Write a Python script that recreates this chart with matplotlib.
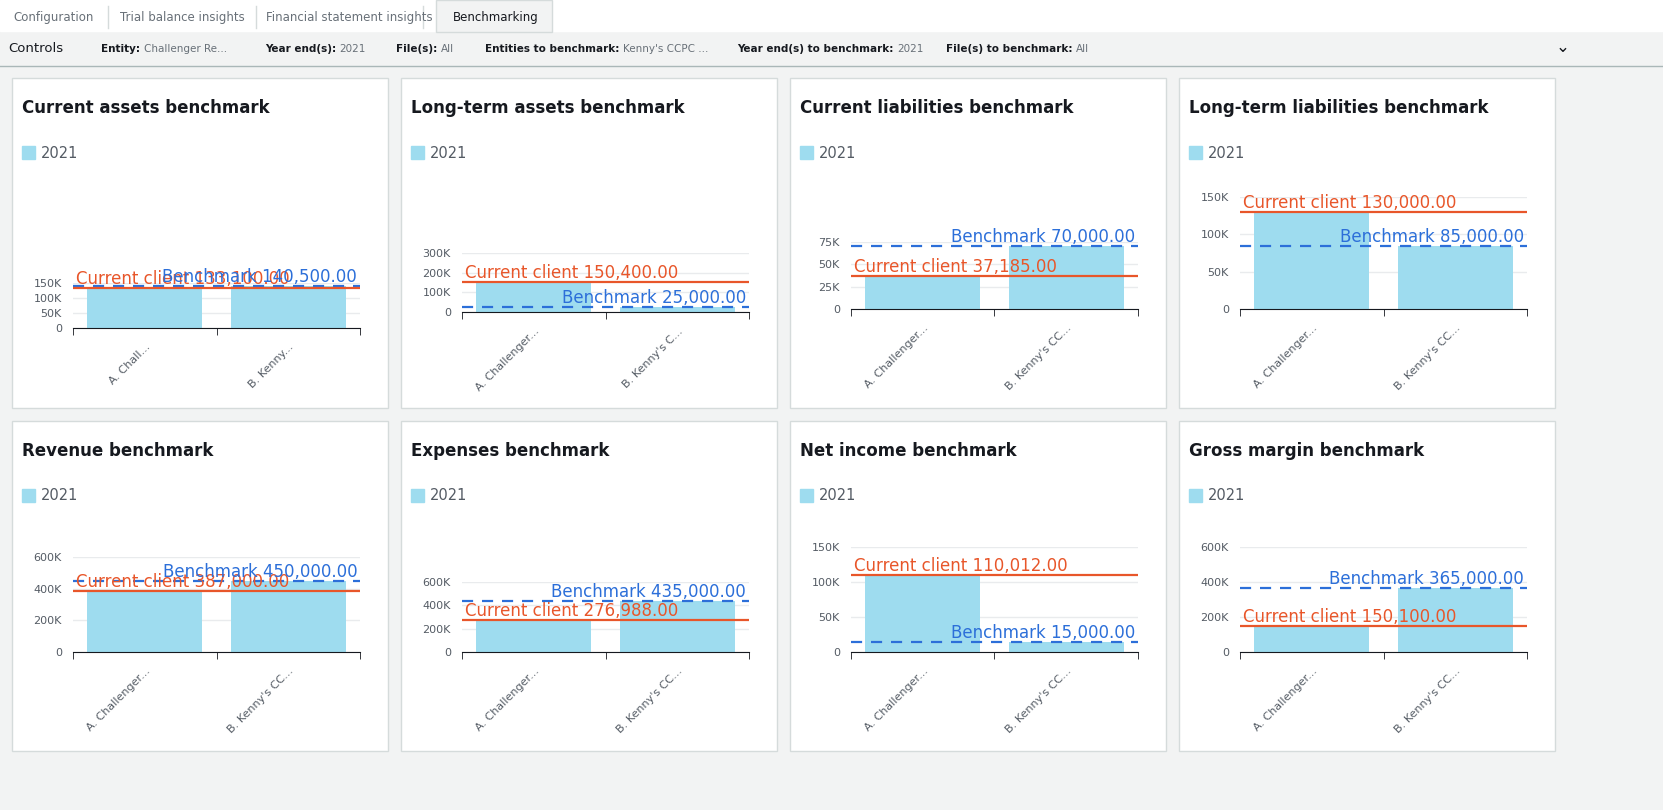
import matplotlib.pyplot as plt
from matplotlib.patches import Rectangle

W, H = 1663, 810
BAR = "#9edcef"
CLIENT = "#e8562a"
BENCH = "#2c6fd9"

# title, panel origin, y max, step, top tick px, bottom px, client, benchmark, labels
panels = [
    ("Current assets benchmark", (12, 78), 150000, 50000, 283, 328, 133100, 140500, ["A. Chall...", "B. Kenny..."]),
    ("Long-term assets benchmark", (401, 78), 300000, 100000, 253, 312, 150400, 25000, ["A. Challenger...", "B. Kenny's C..."]),
    ("Current liabilities benchmark", (790, 78), 75000, 25000, 242, 309, 37185, 70000, ["A. Challenger...", "B. Kenny's CC..."]),
    ("Long-term liabilities benchmark", (1179, 78), 150000, 50000, 197, 309, 130000, 85000, ["A. Challenger...", "B. Kenny's CC..."]),
    ("Revenue benchmark", (12, 421), 600000, 200000, 557, 652, 387000, 450000, ["A. Challenger...", "B. Kenny's CC..."]),
    ("Expenses benchmark", (401, 421), 600000, 200000, 582, 652, 276988, 435000, ["A. Challenger...", "B. Kenny's CC..."]),
    ("Net income benchmark", (790, 421), 150000, 50000, 547, 652, 110012, 15000, ["A. Challenger...", "B. Kenny's CC..."]),
    ("Gross margin benchmark", (1179, 421), 600000, 200000, 547, 652, 150100, 365000, ["A. Challenger...", "B. Kenny's CC..."]),
]

def fx(px):
    return px / W

def fy(py):
    return 1 - py / H

fig = plt.figure(figsize=(W / 100, H / 100), dpi=100, facecolor="#f2f3f3")

# header
bg = fig.add_axes([0, 0, 1, 1], zorder=-5)
bg.set_xlim(0, W)
bg.set_ylim(H, 0)
bg.axis("off")
bg.add_patch(Rectangle((0, 0), W, 31, color="white"))
bg.add_patch(Rectangle((436, 0), 116, 32, facecolor="#f2f3f3", edgecolor="#d5dbdb"))
bg.plot([0, W], [66, 66], color="#aab7b8", lw=1)
for x, t in [(13, "Configuration"), (120, "Trial balance insights"), (266, "Financial statement insights")]:
    bg.text(x, 17, t, fontsize=8.5, color="#687078", va="center")
for x in [108, 256, 423]:
    bg.plot([x, x], [6, 28], color="#d5dbdb", lw=1)
bg.text(453, 17, "Benchmarking", fontsize=8.5, color="#16191f", va="center")
bg.text(8, 49, "Controls", fontsize=9.5, color="#16191f", va="center")
controls = [(101, "Entity:", "Challenger Re..."), (265, "Year end(s):", "2021"), (396, "File(s):", "All"),
            (485, "Entities to benchmark:", "Kenny's CCPC ..."), (737, "Year end(s) to benchmark:", "2021"),
            (946, "File(s) to benchmark:", "All")]
for x, k, v in controls:
    t = bg.text(x, 49, k + " ", fontsize=7.5, weight="bold", color="#16191f", va="center")
    fig.canvas.draw() if False else None
    bg.annotate(v, xy=(1, 0.5), xycoords=t, fontsize=7.5, color="#687078", va="center")
bg.text(1556, 47, "⌄", fontsize=12, color="#16191f", va="center")

for title, (px, py), ymax, step, ytop, ybot, client, bench, labels in panels:
    bg.add_patch(Rectangle((px, py), 376, 330, facecolor="white", edgecolor="#d5dbdb", lw=1))
    bg.text(px + 10, py + 30, title, fontsize=12, weight="bold", color="#16191f", va="center")
    bg.add_patch(Rectangle((px + 10, py + 68), 13, 13, color=BAR))
    bg.text(px + 29, py + 75, "2021", fontsize=10.5, color="#545b64", va="center")

    ax = fig.add_axes([fx(px + 61), fy(ybot), fx(287), (ybot - ytop) / H])
    ax.bar([0, 1], [client, bench], width=0.8, color=BAR, zorder=2)
    ax.axhline(bench, color=BENCH, lw=1.6, ls=(0, (5, 4)), zorder=3)
    ax.axhline(client, color=CLIENT, lw=1.6, zorder=3)
    ax.text(-0.48, client, f"Current client {client:,.2f}", color=CLIENT, fontsize=12, va="bottom", ha="left", zorder=4)
    ax.text(1.48, bench, f"Benchmark {bench:,.2f}", color=BENCH, fontsize=12, va="bottom", ha="right", zorder=4)
    ax.set_xlim(-0.5, 1.5)
    ax.set_ylim(0, ymax)
    ticks = list(range(0, ymax + 1, step))
    ax.set_yticks(ticks)
    ax.set_yticklabels([("0" if t == 0 else f"{t // 1000}K") for t in ticks], fontsize=8, color="#545b64")
    ax.yaxis.grid(True, color="#e9ebed", lw=1, zorder=0)
    ax.tick_params(axis="y", length=0, pad=8)
    ax.set_xticks([0, 1])
    ax.set_xticklabels(labels, rotation=45, ha="right", rotation_mode="anchor", fontsize=8, color="#545b64")
    ax.tick_params(axis="x", length=0, pad=10)
    ax.set_xticks([-0.5, 0.5, 1.5], minor=True)
    ax.tick_params(axis="x", which="minor", length=5, color="#16191f")
    for s in ["top", "right", "left"]:
        ax.spines[s].set_visible(False)
    ax.spines["bottom"].set_color("#16191f")
    ax.set_facecolor("none")

fig.savefig("out.png", dpi=100, facecolor=fig.get_facecolor())
